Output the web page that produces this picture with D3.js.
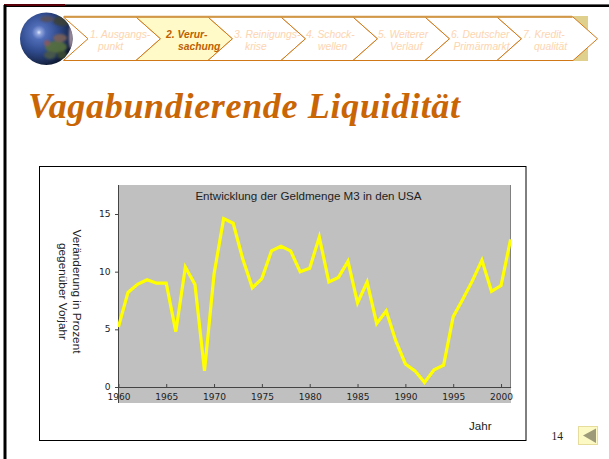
<!DOCTYPE html>
<html><head><meta charset="utf-8">
<script src="https://cdn.jsdelivr.net/npm/d3@7"></script>
<style>html,body{margin:0;padding:0;background:#fff}svg{display:block}text{font-family:"Liberation Sans",Arial,sans-serif}</style>
</head><body><svg id="c" width="609" height="459"></svg>
<script>
const years = d3.range(1960, 2002);
const values = [5.2,8.2,8.9,9.3,9.0,9.0,4.8,10.4,8.9,1.4,9.8,14.6,14.2,11.1,8.6,9.4,11.8,12.2,11.8,10.0,10.3,13.0,9.1,9.5,10.9,7.3,9.1,5.5,6.6,4.0,2.0,1.4,0.4,1.5,1.9,6.1,7.6,9.2,11.0,8.3,8.8,12.8];
const xTicks = [1960,1965,1970,1975,1980,1985,1990,1995,2000];
const yTicks = [0,5,10,15];
const steps = [["1. Ausgangs-","punkt"],["2. Verur-","sachung"],["3. Reinigungs-","krise"],["4. Schock-","wellen"],["5. Weiterer","Verlauf"],["6. Deutscher","Primärmarkt"],["7. Kredit-","qualität"]];
const activeStep = 1;

const svg = d3.select("#c");
const defs = svg.append("defs");
const g1 = defs.append("radialGradient").attr("id","globe").attr("cx",.36).attr("cy",.38).attr("r",.68);
[[0,"#dde6f8"],[.07,"#8fa4dc"],[.2,"#4f6cb8"],[.55,"#2f4a8c"],[.85,"#1a2a50"],[1,"#0c1428"]].forEach(d=>g1.append("stop").attr("offset",d[0]).attr("stop-color",d[1]));
defs.append("filter").attr("id","soft").append("feGaussianBlur").attr("stdDeviation",1.3);
defs.append("clipPath").attr("id","gc").append("circle").attr("cx",46.3).attr("cy",38.7).attr("r",26.3);

// slide frame
svg.append("rect").attr("x",4).attr("y",4).attr("width",605).attr("height",1).attr("fill","#666");
svg.append("rect").attr("x",4).attr("y",5).attr("width",605).attr("height",2).attr("fill","#000");
svg.append("rect").attr("x",4).attr("y",4).attr("width",61).attr("height",2).attr("fill","#5a0008");
svg.append("rect").attr("x",3.5).attr("y",5).attr("width",3).attr("height",454).attr("fill","#000");

// navigation bar
svg.append("rect").attr("x",572).attr("y",16).attr("width",16).attr("height",45).attr("fill","#e0d08e");
const stepEdges = [63.5,136,208,281,353,425,497,573];
const line1X = [90,166,234,306,378,451,523];
const line2X = [98,178,245,318,390,453.5,534];
const navTop = 17, navBot = 60.5, tip = 24.5;
const nav = svg.append("g");
steps.forEach((s,i)=>{
  const l = stepEdges[i], r = stepEdges[i+1];
  nav.append("path").attr("d",`M${l},${navTop}L${r},${navTop}L${r+tip},${(navTop+navBot)/2}L${r},${navBot}L${l},${navBot}L${l+tip},${(navTop+navBot)/2}Z`)
    .attr("fill", i===activeStep ? "#fffac8" : "#fff").attr("stroke","#d07818").attr("stroke-width",1);
});
steps.forEach((s,i)=>{
  const a = i===activeStep;
  const t = nav.append("text").attr("font-size",10.3).attr("font-style","italic").attr("font-weight",a?"bold":"normal").attr("fill",a?"#c05f00":"#fdd5b0");
  t.append("tspan").attr("x",line1X[i]).attr("y",38).text(s[0]);
  t.append("tspan").attr("x",line2X[i]).attr("y",49.5).text(s[1]);
});
nav.append("line").attr("x1",64).attr("x2",572).attr("y1",16.7).attr("y2",16.7).attr("stroke","#d09848").attr("stroke-width",2);

// globe
svg.append("circle").attr("cx",46.3).attr("cy",38.7).attr("r",26.3).attr("fill","url(#globe)");
const land = svg.append("g").attr("clip-path","url(#gc)").append("g").attr("filter","url(#soft)");
[[56,47,11,6,"#56703a"],[60,38,7,4,"#7a6058"],[50,55,6,4,"#4a5a48"],[62,55,5,4,"#3a4a30"],[62,21,9,5,"#3c4038"],[47,19,7,3,"#57505a"],[71,37,2,12,"#b09aa8"],[47,43,3,3,"#8a5a60"]].forEach(d=>
  land.append("ellipse").attr("cx",d[0]).attr("cy",d[1]).attr("rx",d[2]).attr("ry",d[3]).attr("fill",d[4]).attr("opacity",.9));

// title
svg.append("text").attr("x",28).attr("y",118).style("font-family","'Liberation Serif',serif").attr("font-size",36).attr("font-weight","bold").attr("font-style","italic").attr("fill","#c96505").attr("textLength",432).text("Vagabundierende Liquidität");

// chart box
svg.append("rect").attr("x",39.5).attr("y",166.5).attr("width",486.5).attr("height",274).attr("fill","#fff").attr("stroke","#000").attr("stroke-width",1);

const x = d3.scaleLinear().domain([1960,2001]).range([118.4,510.6]);
const y = d3.scaleLinear().domain([0,15]).range([387,214]);
svg.append("rect").attr("x",118).attr("y",185).attr("width",393).attr("height",218).attr("fill","#c0c0c0");
svg.append("line").attr("x1",510.5).attr("x2",510.5).attr("y1",185).attr("y2",387).attr("stroke","#808080");

const axX = svg.append("g").attr("transform","translate(0,387)").call(d3.axisBottom(x).tickValues(xTicks).tickFormat(d3.format("d")).tickSize(0));
axX.select(".domain").attr("stroke","#444");
axX.selectAll(".tick line").attr("y1",-3).attr("y2",0).attr("stroke","#444");
axX.selectAll("text").attr("y",7).attr("dy",".71em").attr("font-size",8).attr("font-family",null).style("font-family","'DejaVu Sans',sans-serif").attr("textLength",23).attr("lengthAdjust","spacingAndGlyphs").attr("fill","#222");
const axY = svg.append("g").attr("transform","translate(118.5,0)").call(d3.axisLeft(y).tickValues(yTicks).tickFormat(d3.format("d")).tickSize(3.5));
axY.select(".domain").attr("d","M0,185V403").attr("stroke","#444");
axY.selectAll(".tick line").attr("stroke","#444");
axY.selectAll("text").attr("x",-8).attr("font-size",8).attr("font-family",null).style("font-family","'DejaVu Sans',sans-serif").attr("textLength",d=>String(d).length*5.8).attr("lengthAdjust","spacingAndGlyphs").attr("fill","#222");

const line = d3.line().x((d,i)=>x(years[i])).y(d=>y(d));
svg.append("clipPath").attr("id","pc").append("rect").attr("x",118).attr("y",185).attr("width",393).attr("height",202);
svg.append("path").attr("clip-path","url(#pc)").datum(values).attr("d",line).attr("fill","none").attr("stroke","#ffff00").attr("stroke-width",3.2).attr("stroke-linejoin","miter");

svg.append("text").attr("x",308.5).attr("y",200).attr("text-anchor","middle").attr("font-size",11.6).attr("fill","#222").text("Entwicklung der Geldmenge M3 in den USA");
const yl = svg.append("text").attr("transform","translate(73,291.5) rotate(90)").attr("text-anchor","middle").attr("font-size",11.8).attr("fill","#222");
yl.append("tspan").attr("x",0).attr("y",0).text("Veränderung in Prozent");
yl.append("tspan").attr("x",0).attr("y",14).text("gegenüber Vorjahr");
svg.append("text").attr("x",469).attr("y",430).attr("font-size",11.6).attr("fill","#222").text("Jahr");
svg.append("text").attr("x",551.5).attr("y",440).style("font-family","'Liberation Serif',serif").attr("font-size",11.5).attr("fill","#222").text("14");

// back button
svg.append("rect").attr("x",578.5).attr("y",426.5).attr("width",19).attr("height",18).attr("fill","#fdf9c4").attr("stroke","#e6dc9c");
svg.append("path").attr("d","M583,435.5L596,428.5V443Z").attr("fill","#9c9a78");
</script></body></html>
